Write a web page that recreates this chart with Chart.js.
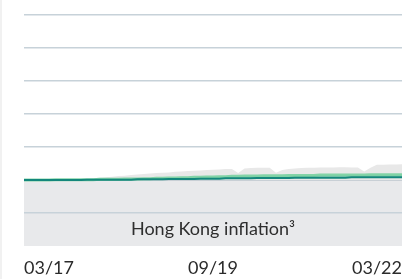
<!DOCTYPE html>
<html>
<head>
<meta charset="utf-8">
<script src="https://cdn.jsdelivr.net/npm/chart.js@4"></script>
<style>
  html, body { margin: 0; padding: 0; background: #fff; }
  #wrap { width: 412px; height: 279px; border-left: 2px solid #f1f1f1; }
</style>
</head>
<body>
<div id="wrap"><canvas id="myChart" width="412" height="279"></canvas></div>
<script>
'use strict';
// data
const months = [];
for (let y = 17; y <= 22; y++) {
    for (let m = 1; m <= 12; m++) {
        if ((y === 17 && m < 3) || (y === 22 && m > 3)) continue;
        months.push(String(m).padStart(2, '0') + '/' + y);
    }
}
const shownLabels = ['03/17', '09/19', '03/22'];

const inflation = [
    0, 0, 0, 0, 0.01, 0.01, 0.02, 0.02, 0.03, 0.03,
    0.04, 0.05, 0.07, 0.08, 0.10, 0.12, 0.13, 0.15, 0.17, 0.18,
    0.20, 0.21, 0.22, 0.23, 0.25, 0.26, 0.27, 0.28, 0.29, 0.30,
    0.31, 0.32, 0.33, 0.33, 0.21, 0.35, 0.36, 0.37, 0.37, 0.37,
    0.22, 0.30, 0.33, 0.35, 0.36, 0.37, 0.37, 0.38, 0.38, 0.38,
    0.39, 0.39, 0.38, 0.38, 0.26, 0.37, 0.46, 0.46, 0.47, 0.47,
    0.48
];
const upper = [
    0, 0, 0, 0, 0, 0.01, 0.01, 0.01, 0.01, 0.01,
    0.01, 0.01, 0.02, 0.02, 0.02, 0.02, 0.03, 0.03, 0.03, 0.04,
    0.04, 0.05, 0.05, 0.06, 0.06, 0.07, 0.07, 0.08, 0.08, 0.09,
    0.09, 0.10, 0.10, 0.11, 0.11, 0.12, 0.12, 0.12, 0.13, 0.13,
    0.13, 0.13, 0.14, 0.14, 0.14, 0.14, 0.14, 0.15, 0.15, 0.15,
    0.15, 0.15, 0.15, 0.15, 0.15, 0.16, 0.16, 0.16, 0.16, 0.16,
    0.16
];
const lower = [
    0, 0, 0, 0, 0, 0, 0, 0, 0, 0,
    0.01, 0.01, 0.01, 0.01, 0.01, 0.01, 0.01, 0.01, 0.02, 0.02,
    0.02, 0.02, 0.02, 0.03, 0.03, 0.03, 0.03, 0.03, 0.04, 0.04,
    0.04, 0.04, 0.05, 0.05, 0.05, 0.05, 0.05, 0.06, 0.06, 0.06,
    0.06, 0.06, 0.06, 0.07, 0.07, 0.07, 0.07, 0.07, 0.07, 0.07,
    0.07, 0.07, 0.08, 0.08, 0.08, 0.08, 0.08, 0.08, 0.08, 0.08,
    0.08
];
const bandLabel = 'Hong Kong inflation\u00b3';

// grey band below zero + its label
const bandPlugin = {
    id: 'band',
    beforeDraw(chart) {
        const {ctx, chartArea, scales} = chart;
        const y0 = scales.y.getPixelForValue(0);
        ctx.save();
        ctx.fillStyle = '#e8e9eb';
        ctx.fillRect(chartArea.left, y0, chartArea.right - chartArea.left, chartArea.bottom - y0);
        ctx.restore();
    },
    afterDraw(chart) {
        const {ctx, chartArea, scales} = chart;
        const yText = scales.y.getPixelForValue(-1.5);
        ctx.save();
        ctx.font = '18px Lato, sans-serif';
        ctx.fillStyle = '#2e2e2e';
        ctx.textAlign = 'center';
        ctx.textBaseline = 'middle';
        ctx.fillText(bandLabel, (chartArea.left + chartArea.right) / 2, yText);
        ctx.restore();
    }
};

const ctx = document.getElementById('myChart');
const myChart = new Chart(ctx.getContext('2d'), {
    type: 'line',
    data: {
        labels: months,
        datasets: [{
            label: 'lower',
            data: lower,
            borderColor: '#13877b',
            borderWidth: 2,
            pointRadius: 0,
            fill: false,
            order: 1
        }, {
            label: 'upper',
            data: upper,
            borderColor: 'rgba(120, 208, 160, 0.9)',
            backgroundColor: 'rgba(60, 175, 150, 0.4)',
            borderWidth: 3,
            pointRadius: 0,
            fill: 0,
            order: 2
        }, {
            label: 'inflation',
            data: inflation,
            borderWidth: 0,
            borderColor: 'rgba(0,0,0,0)',
            backgroundColor: '#e8e8e8',
            pointRadius: 0,
            fill: 'origin',
            order: 3
        }]
    },
    options: {
        responsive: false,
        animation: false,
        layout: {
            padding: { left: 22, right: 12, top: 15, bottom: 0 }
        },
        plugins: {
            legend: { display: false },
            tooltip: { enabled: false }
        },
        scales: {
            x: {
                grid: { display: false, drawTicks: false },
                border: { display: false },
                afterFit: scale => { scale.height = 33; },
                ticks: {
                    autoSkip: false,
                    maxRotation: 0,
                    align: 'inner',
                    padding: 11,
                    color: '#2b2b2b',
                    font: { family: 'Lato', size: 18 },
                    callback: function(val, i) {
                        const lab = this.getLabelForValue(val);
                        return shownLabels.includes(lab) ? lab : '';
                    }
                }
            },
            y: {
                min: -2,
                max: 5,
                border: { display: false },
                ticks: { display: false, stepSize: 1 },
                grid: {
                    drawTicks: false,
                    lineWidth: 1.5,
                    color: c => {
                        if (c.tick.value === -2) return 'rgba(0,0,0,0)';
                        if (c.tick.value === 0) return '#a8b6bf';
                        return '#c7d2d9';
                    }
                }
            }
        }
    },
    plugins: [bandPlugin]
});
</script>
</body>
</html>
